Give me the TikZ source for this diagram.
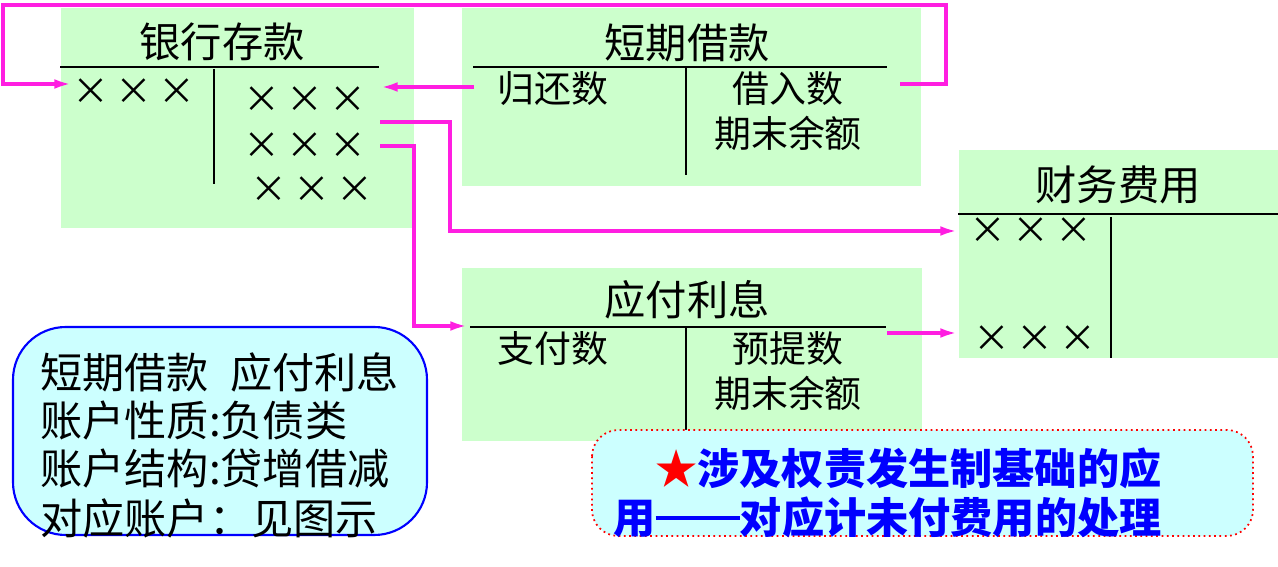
\documentclass[tikz,border=0pt]{standalone}
\usepackage{fontspec}
\usetikzlibrary{arrows.meta}
\newfontfamily\cjk{Noto Sans CJK SC}
\definecolor{acctgreen}{RGB}{204,255,204}
\definecolor{notecyan}{RGB}{204,255,255}
\definecolor{linkpink}{RGB}{255,30,225}

\begin{document}
\begin{tikzpicture}[x=0.02cm, y=-0.02cm,
	every node/.style={font=\cjk\fontsize{21}{25}\selectfont, inner sep=0pt},
	acct/.style={fill=acctgreen},
	tline/.style={line width=1.3pt},
	title/.style={font=\cjk\fontsize{23.5}{28}\selectfont},
	marks/.style={font=\cjk\fontsize{21}{25}\selectfont},
	link/.style={linkpink, line width=2pt},
	linkto/.style={link, -{Latex[length=10pt,width=5.5pt]}}]
	\useasboundingbox (0,0) rectangle (1278,567);

	% T accounts
	\fill[acct] (61,8) rectangle (414,228);
	\node[title] (bank) at (222,42) {银行存款};
	\draw[tline] (60,67) -- (379,67);
	\draw[tline] (214,69) -- (214,184);
	\node[marks] (bank-d) at (134,92) {×\,×\,×};
	\foreach \y/\x/\n in {100/305/1, 146/305/2, 190/312/3}
		\node[marks] (bank-c\n) at (\x,\y) {×\,×\,×};

	\fill[acct] (462,8) rectangle (921,186);
	\node[title] (loan) at (687,43) {短期借款};
	\draw[tline] (473,67) -- (887,67);
	\draw[tline] (686,67) -- (686,175);
	\node (loan-d) at (553,89) {归还数};
	\node (loan-c) at (788,89) {借入数};
	\node (loan-b) at (788,133) {期末余额};

	\fill[acct] (959,150) rectangle (1278,358);
	\node[title] (fee) at (1118,185) {财务费用};
	\draw[tline] (958,214) -- (1278,214);
	\draw[tline] (1111,217) -- (1111,358);
	\node[marks] (fee-d1) at (1031,231) {×\,×\,×};
	\node[marks] (fee-d2) at (1035,339) {×\,×\,×};

	\fill[acct] (462,268) rectangle (922,441);
	\node[title] (int) at (687,300) {应付利息};
	\draw[tline] (470,327) -- (886,327);
	\draw[tline] (686,327) -- (686,430);
	\node (int-d) at (553,349) {支付数};
	\node (int-c) at (788,349) {预提数};
	\node (int-b) at (788,393) {期末余额};

	% connectors
	\coordinate (loan-out) at (900,84);
	\coordinate (bank-in) at (72,84);
	\coordinate (loan-back) at (474,87);
	\coordinate (bank-back) at (380,87);
	\coordinate (bank-out1) at (380,122);
	\coordinate (bank-out2) at (380,146);
	\coordinate (fee-in1) at (958,231);
	\coordinate (fee-in2) at (958,333);
	\coordinate (int-in) at (468,326);
	\coordinate (int-out) at (887,333);
	\draw[linkto] (loan-out) -- ++(46,0) |- (3,5) |- (bank-in);
	\draw[linkto] (loan-back) -- (bank-back);
	\draw[linkto] (bank-out1) -- ++(70,0) |- (fee-in1);
	\draw[linkto] (bank-out2) -- ++(34,0) |- (int-in);
	\draw[linkto] (int-out) -- (fee-in2);

	% notes
	\draw[blue, line width=1.2pt, fill=notecyan, rounded corners=30] (13,327) rectangle (427,535);
	\foreach \y/\lab [count=\n] in {372/{短期借款\hspace{0.5em}应付利息}, 420/{账户性质:负债类}, 468/{账户结构:贷增借减}, 518/{对应账户：见图示}}
		\node[anchor=west, font=\cjk\fontsize{24}{28}\selectfont] (info\n) at (40,\y) {\lab};

	\draw[red, line width=1pt, dotted, fill=notecyan, rounded corners=15] (592,430) rectangle (1253,536);
	\node[anchor=west, blue, font=\cjk\bfseries\fontsize{24}{28}\selectfont] (tip1) at (655,468) {\textcolor{red}{★}涉及权责发生制基础的应};
	\node[anchor=west, blue, font=\cjk\bfseries\fontsize{24}{28}\selectfont] (tip2) at (613,517) {用\rule[0.3em]{2em}{2.6pt}对应计未付费用的处理};
\end{tikzpicture}
\end{document}
